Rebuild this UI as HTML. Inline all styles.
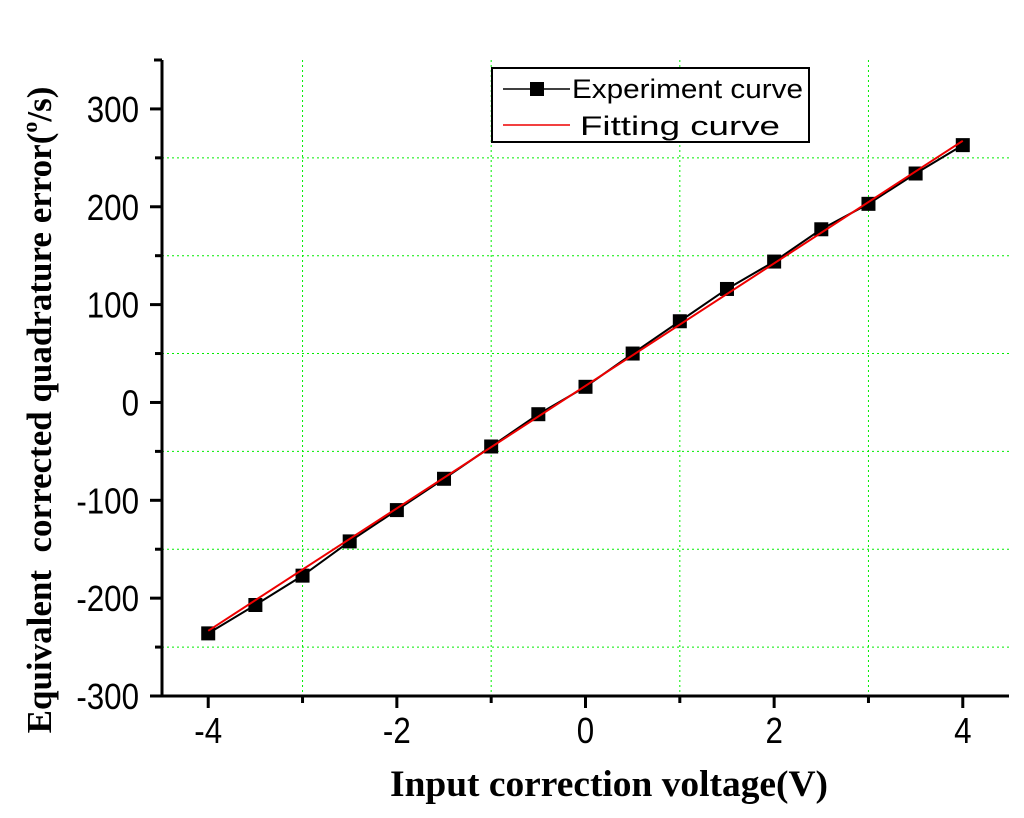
<!DOCTYPE html>
<html><head><meta charset="utf-8"><style>
body{margin:0;background:#fff;}
svg{display:block;}
</style></head><body>
<svg id="chart" width="1024" height="818" xmlns="http://www.w3.org/2000/svg">
<g id="grid"></g>
<g id="series"></g>
<g id="axes"></g>
<g>
<rect x="492" y="68" width="317" height="74" fill="#fff" stroke="#000" stroke-width="2"/>
<g>
<line x1="503" y1="89" x2="570" y2="89" stroke="#000" stroke-width="1.5"/>
<rect x="530" y="82" width="14" height="14" fill="#000"/>
<text x="572" y="98" font-family="Liberation Sans, sans-serif" font-size="27" textLength="231" lengthAdjust="spacingAndGlyphs">Experiment curve</text>
</g>
<g>
<line x1="503" y1="125" x2="570" y2="125" stroke="#e00" stroke-width="1.5"/>
<text x="580" y="135" font-family="Liberation Sans, sans-serif" font-size="27" textLength="200" lengthAdjust="spacingAndGlyphs">Fitting curve</text>
</g>
</g>
<text x="609" y="796" text-anchor="middle" font-family="Liberation Serif, serif" font-weight="bold" font-size="37" textLength="438" lengthAdjust="spacingAndGlyphs">Input correction voltage(V)</text>
<text transform="translate(51,410) rotate(-90)" text-anchor="middle" font-family="Liberation Serif, serif" font-weight="bold" font-size="35" xml:space="preserve">Equivalent  corrected quadrature error(<tspan font-size="22" dy="-14">o</tspan><tspan dy="14">/s)</tspan></text>
</svg>
<script>
const xValues = [-4,-3.5,-3,-2.5,-2,-1.5,-1,-0.5,0,0.5,1,1.5,2,2.5,3,3.5,4];
const experimentValues = [-236,-207,-177,-142,-110,-78,-45,-12,16,50,83,116,144,177,203,234,263];
const fitSlope = 62.6;
const fitIntercept = 17;
const xTicks = [-4,-2,0,2,4];
const yTicks = [-300,-200,-100,0,100,200,300];
const xMinor = [-3,-1,1,3];
const yMinor = [-250,-150,-50,50,150,250];

const L=162,R=1009,T=60,B=696;
const xMin=-4.49,xMax=4.49,yMin=-300,yMax=350;
const sx=v=>L+(v-xMin)/(xMax-xMin)*(R-L);
const sy=v=>B-(v-yMin)/(yMax-yMin)*(B-T);
const NS='http://www.w3.org/2000/svg';
function mk(tag,attrs,parent){const e=document.createElementNS(NS,tag);for(const k in attrs)e.setAttribute(k,attrs[k]);parent.appendChild(e);return e;}
const grid=document.getElementById('grid'),ser=document.getElementById('series'),ax=document.getElementById('axes');
xMinor.forEach(v=>{const l=mk('line',{x1:sx(v),x2:sx(v),y1:T,y2:B,stroke:'#0e0','stroke-width':1,'stroke-dasharray':'2,3'},grid);

});
yMinor.forEach(v=>{const l=mk('line',{x1:L,x2:R,y1:sy(v),y2:sy(v),stroke:'#0e0','stroke-width':1,'stroke-dasharray':'2,3'},grid);

});
const pe=mk('polyline',{points:xValues.map((x,i)=>sx(x)+','+sy(experimentValues[i])).join(' '),fill:'none',stroke:'#000','stroke-width':2},ser);


xValues.forEach((x,i)=>{const r=mk('rect',{x:sx(x)-7,y:sy(experimentValues[i])-7,width:14,height:14,fill:'#000'},ser);

});
const x0=xValues[0],x1=xValues[xValues.length-1];
const pf=mk('line',{x1:sx(x0),y1:sy(fitSlope*x0+fitIntercept),x2:sx(x1),y2:sy(fitSlope*x1+fitIntercept),stroke:'#e00','stroke-width':2},ser);


const ya=mk('line',{x1:L,x2:L,y1:T,y2:B+1,stroke:'#000','stroke-width':3},ax);


const xa=mk('line',{x1:L-1,x2:R,y1:B,y2:B,stroke:'#000','stroke-width':3},ax);


mk('line',{x1:L-8,x2:L,y1:T,y2:T,stroke:'#000','stroke-width':3},ax);
yTicks.forEach(v=>{mk('line',{x1:L-12,x2:L,y1:sy(v),y2:sy(v),stroke:'#000','stroke-width':3},ax);
const t=mk('text',{transform:'translate('+(L-23)+','+(sy(v)+13)+') scale(0.87,1)','text-anchor':'end','font-family':'Liberation Sans, sans-serif','font-size':36},ax);t.textContent=v;

});
yMinor.forEach(v=>mk('line',{x1:L-7,x2:L,y1:sy(v),y2:sy(v),stroke:'#000','stroke-width':3},ax));
xTicks.forEach(v=>{mk('line',{x1:sx(v),x2:sx(v),y1:B,y2:B+12,stroke:'#000','stroke-width':3},ax);
const t=mk('text',{transform:'translate('+sx(v)+','+(B+47)+') scale(0.87,1)','text-anchor':'middle','font-family':'Liberation Sans, sans-serif','font-size':36},ax);t.textContent=v;

});
xMinor.forEach(v=>mk('line',{x1:sx(v),x2:sx(v),y1:B,y2:B+7,stroke:'#000','stroke-width':3},ax));
</script>
</body></html>
